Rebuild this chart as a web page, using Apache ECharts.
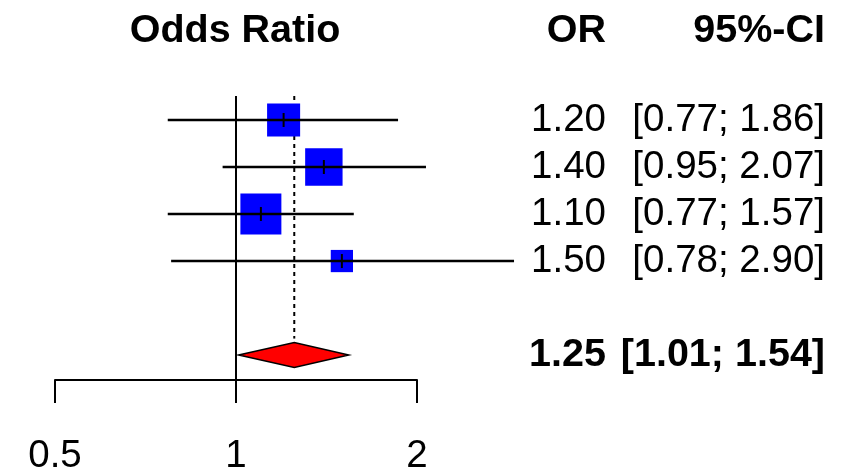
<!DOCTYPE html>
<html>
<head>
<meta charset="utf-8">
<script src="https://cdn.jsdelivr.net/npm/echarts@6/dist/echarts.min.js"></script>
<style>
  html, body { margin: 0; padding: 0; background: #fff; }
  #chart { width: 853px; height: 470px; }
</style>
</head>
<body>
<div id="chart"></div>
<script>
// Study-level results (odds ratio with 95% confidence interval)
const studyRows  = [1, 2, 3, 4];
const oddsRatio  = [1.20, 1.40, 1.10, 1.50];
const ciLower    = [0.77, 0.95, 0.77, 0.78];
const ciUpper    = [1.86, 2.07, 1.57, 2.90];
const weightPct  = [23.4, 30.0, 36.0, 10.6];

// Pooled estimate
const pooledRow   = 6;
const pooledOR    = 1.25;
const pooledLower = 1.01;
const pooledUpper = 1.54;

// Axis ticks
const tickValues = [0.5, 1, 2];
const tickLabels = ['0.5', '1', '2'];

// Column headers
const headerPlot = 'Odds Ratio';
const headerOR   = 'OR';
const headerCI   = '95%-CI';

const FONT = '"Liberation Sans", Arial, Helvetica, sans-serif';
const FONT_SIZE = 38.5;
const BOLD_SIZE = 39.5;
const OR_RIGHT = 606;   // right edge of the OR column
const CI_RIGHT = 825;   // right edge of the CI column
const SQUARE_SCALE = 6.83; // square side in px per sqrt(weight %)
const DIAMOND_HALF = 12.5;

const fmt = v => v.toFixed(2);
const ciText = (lo, hi) => '[' + fmt(lo) + '; ' + fmt(hi) + ']';
const plainFont = FONT_SIZE + 'px ' + FONT;
const boldFont = 'bold ' + BOLD_SIZE + 'px ' + FONT;

const studyData = studyRows.map((r, i) => [oddsRatio[i], ciLower[i], ciUpper[i], r, weightPct[i]]);
const pooledData = [[pooledOR, pooledLower, pooledUpper, pooledRow]];

const chart = echarts.init(document.getElementById('chart'), null, { renderer: 'canvas' });

const yMin = 0.49, yMax = 6.53;

chart.setOption({
  animation: false,
  backgroundColor: '#fff',
  textStyle: { fontFamily: FONT },
  grid: { left: 55, right: 436, top: 96, bottom: 90, outerBoundsMode: 'none' },
  xAxis: {
    type: 'log',
    logBase: 2,
    min: 0.5,
    max: 2,
    axisLine: { show: true, lineStyle: { color: '#000', width: 2 } },
    axisTick: { show: true, length: 23, lineStyle: { color: '#000', width: 2 } },
    axisLabel: {
      color: '#000', fontSize: FONT_SIZE, fontFamily: FONT, margin: 57,
      showMinLabel: true, showMaxLabel: true,
      formatter: v => {
        const i = tickValues.findIndex(t => Math.abs(t - v) < 1e-9);
        return i >= 0 ? tickLabels[i] : '';
      }
    },
    splitLine: { show: false }
  },
  yAxis: {
    type: 'value', inverse: true, min: yMin, max: yMax, show: false
  },
  graphic: [
    { type: 'text', x: 235, y: 31,
      style: { text: headerPlot, font: boldFont, fill: '#000', align: 'center', verticalAlign: 'middle' } },
    { type: 'text', x: OR_RIGHT, y: 31,
      style: { text: headerOR, font: boldFont, fill: '#000', align: 'right', verticalAlign: 'middle' } },
    { type: 'text', x: CI_RIGHT, y: 31,
      style: { text: headerCI, font: boldFont, fill: '#000', align: 'right', verticalAlign: 'middle' } }
  ],
  series: [
    // Reference line at OR = 1 and dotted line at the pooled estimate
    {
      type: 'custom',
      clip: false,
      silent: true,
      data: [[pooledOR]],
      renderItem: (params, api) => {
        const top1 = api.coord([1, yMin]);
        const bot1 = api.coord([1, yMax]);
        const topP = api.coord([pooledOR, yMin]);
        const botP = api.coord([pooledOR, pooledRow]);
        return {
          type: 'group',
          children: [
            { type: 'line', shape: { x1: top1[0], y1: top1[1], x2: bot1[0], y2: bot1[1] },
              style: { stroke: '#000', lineWidth: 2 } },
            { type: 'line', shape: { x1: topP[0], y1: topP[1], x2: botP[0], y2: botP[1] - DIAMOND_HALF - 4 },
              style: { stroke: '#000', lineWidth: 2, lineDash: [4, 4] } }
          ]
        };
      }
    },
    // Study squares, confidence intervals and their text columns
    {
      type: 'custom',
      clip: false,
      data: studyData,
      renderItem: (params, api) => {
        const est = api.value(0), lo = api.value(1), hi = api.value(2), row = api.value(3), w = api.value(4);
        const pE = api.coord([est, row]);
        const pL = api.coord([lo, row]);
        const pH = api.coord([hi, row]);
        const side = SQUARE_SCALE * Math.sqrt(w);
        return {
          type: 'group',
          children: [
            { type: 'rect', shape: { x: pE[0] - side / 2, y: pE[1] - side / 2, width: side, height: side },
              style: { fill: '#0000ff' } },
            { type: 'line', shape: { x1: pL[0], y1: pL[1], x2: pH[0], y2: pH[1] },
              style: { stroke: '#000', lineWidth: 2.5 } },
            { type: 'line', shape: { x1: pE[0], y1: pE[1] - 7, x2: pE[0], y2: pE[1] + 7 },
              style: { stroke: '#000', lineWidth: 2 } },
            { type: 'text', x: OR_RIGHT, y: pE[1],
              style: { text: fmt(est), font: plainFont, fill: '#000', align: 'right', verticalAlign: 'middle' } },
            { type: 'text', x: CI_RIGHT, y: pE[1],
              style: { text: ciText(lo, hi), font: plainFont, fill: '#000', align: 'right', verticalAlign: 'middle' } }
          ]
        };
      }
    },
    // Pooled diamond and its text
    {
      type: 'custom',
      clip: false,
      data: pooledData,
      renderItem: (params, api) => {
        const est = api.value(0), lo = api.value(1), hi = api.value(2), row = api.value(3);
        const pE = api.coord([est, row]);
        const pL = api.coord([lo, row]);
        const pH = api.coord([hi, row]);
        return {
          type: 'group',
          children: [
            { type: 'polygon',
              shape: { points: [[pL[0], pL[1]], [pE[0], pE[1] - DIAMOND_HALF], [pH[0], pH[1]], [pE[0], pE[1] + DIAMOND_HALF]] },
              style: { fill: '#ff0000', stroke: '#000', lineWidth: 1.5 } },
            { type: 'text', x: OR_RIGHT, y: pE[1],
              style: { text: fmt(est), font: boldFont, fill: '#000', align: 'right', verticalAlign: 'middle' } },
            { type: 'text', x: CI_RIGHT, y: pE[1],
              style: { text: ciText(lo, hi), font: boldFont, fill: '#000', align: 'right', verticalAlign: 'middle' } }
          ]
        };
      }
    }
  ]
});
</script>
</body>
</html>
